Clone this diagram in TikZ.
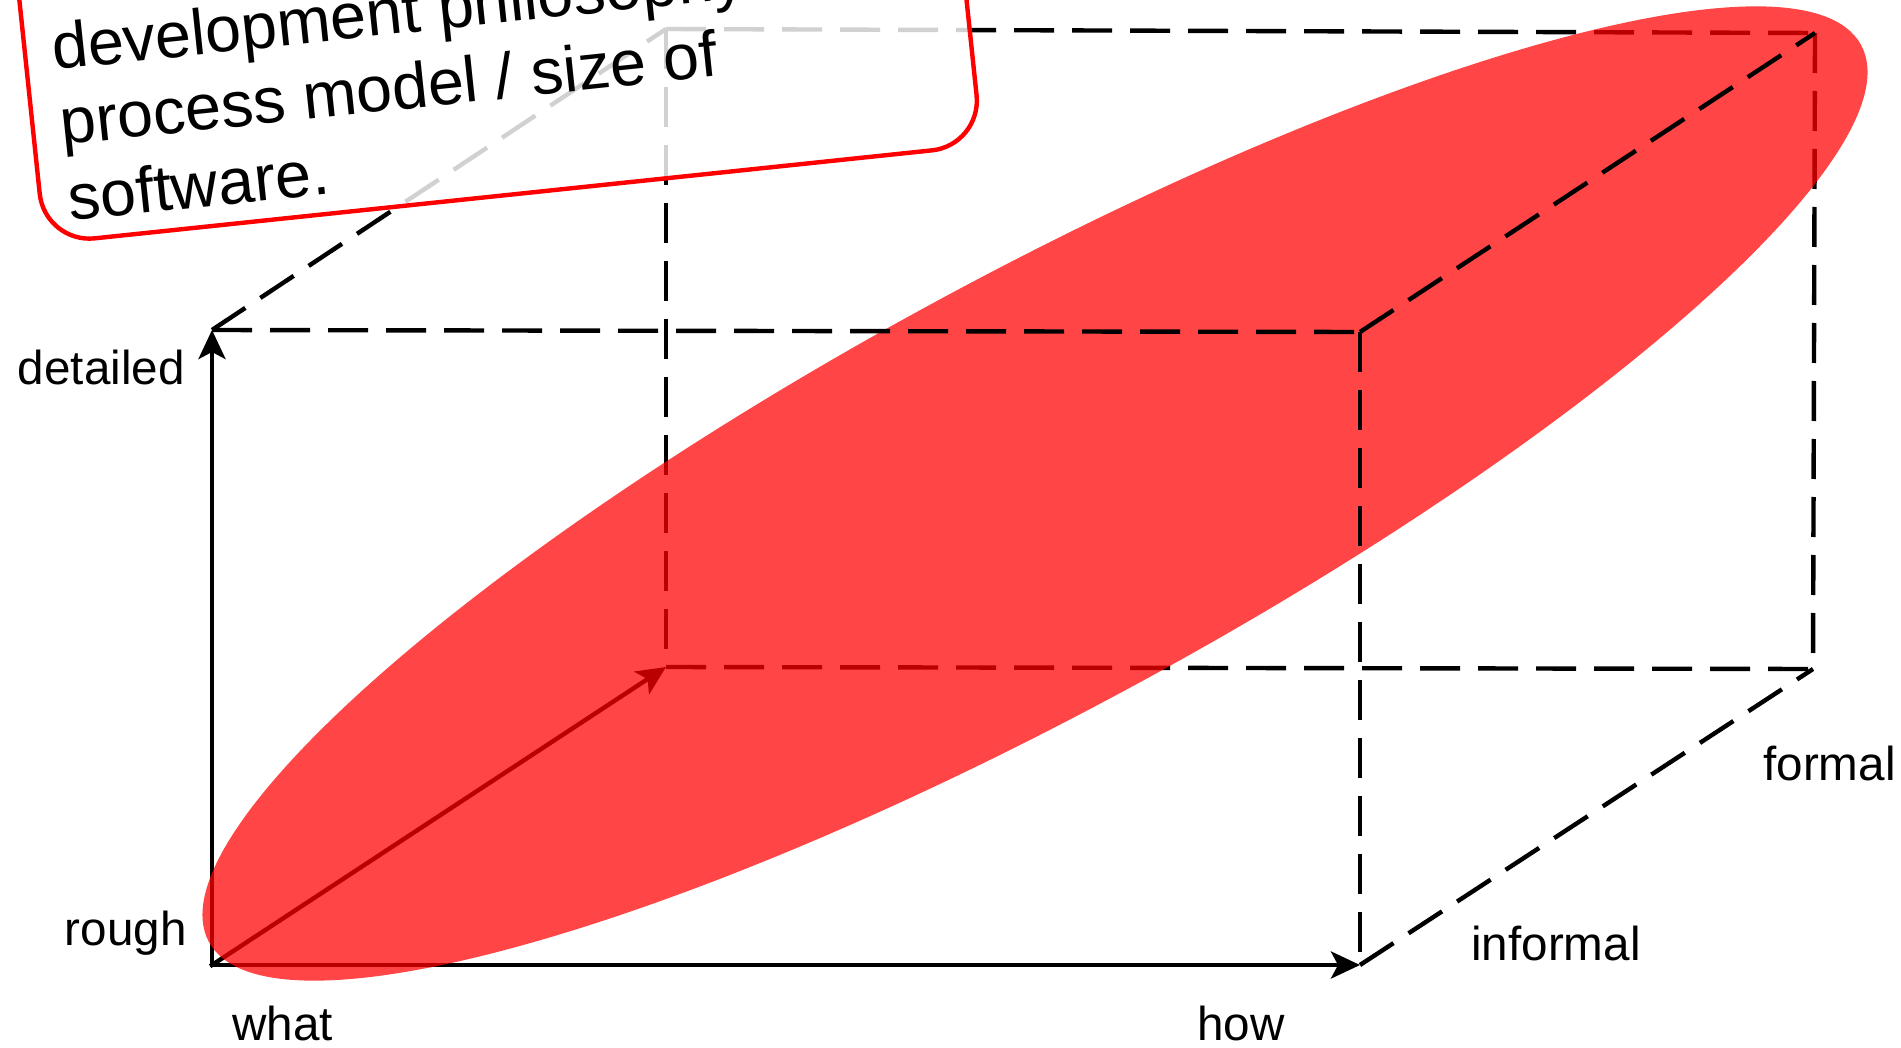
\documentclass[tikz,border=0pt]{standalone}
\usepackage{fontspec}
\setmainfont{Liberation Sans}
\usetikzlibrary{arrows.meta}
\begin{document}
\begin{tikzpicture}[x=0.5pt,y=-0.5pt,
  ln/.style={line width=2.2pt, black},
  dsh/.style={ln, dash pattern=on 20pt off 9pt},
  axis/.style={ln, line cap=rect, -{Stealth[length=14.5pt,width=13.5pt,inset=3.5pt]}},
  lbl/.style={inner sep=0pt, font=\fontsize{23.8pt}{28pt}\selectfont},
  ctext/.style={inner sep=0pt, rotate=6, font=\fontsize{32.3pt}{38pt}\selectfont},
  callbox/.style={draw=red, line width=2.2pt, fill=white, fill opacity=0.82,
    rounded corners=25pt, rotate=6, inner sep=0pt}]
\clip (0,0) rectangle (1901,1048);
\useasboundingbox (0,0) rectangle (1901,1048);

% corners
\coordinate (O) at (212,965);
\coordinate (FTL) at (212,330);
\coordinate (FBR) at (1360,965);
\coordinate (FTR) at (1360,332);
\coordinate (BBL) at (666,667);
\coordinate (BTL) at (666,29);
\coordinate (BTR) at (1815,33);
\coordinate (BBR) at (1813,669);

% back edges
\draw[dsh] (BTL) -- (BTR);
\draw[dsh] (BTL) -- (BBL);
\draw[dsh] (BBL) -- (BBR);
\draw[dsh] (BTR) -- (BBR);
\draw[dsh] (FTL) -- (BTL);

% axes
\draw[axis] (O) -- (FTL);
\draw[axis] (O) -- (FBR);
\draw[axis] (O) -- (BBL);

% ellipse
\fill[red, opacity=0.73, rotate around={28.5:(1035,493.5)}] (1035,493.5) ellipse [x radius=470pt, y radius=108pt];

% front edges
\draw[dsh] (FTL) -- (FTR);
\draw[dsh] (FTR) -- (FBR);
\draw[dsh] (FTR) -- (BTR);
\draw[dsh] (FBR) -- (BBR);

% labels
\node[lbl, anchor=base east] (detailed) at (185,385) {detailed};
\node[lbl, anchor=base east] (rough) at (187,945) {rough};
\node[lbl, anchor=base west] (what) at (232,1040) {what};
\node[lbl, anchor=base west] (how) at (1197,1040) {how};
\node[lbl, anchor=base west] (informal) at (1471,960) {informal};
\node[lbl, anchor=base west] (formal) at (1763,780) {formal};

% callout
\node[callbox, minimum width=471pt, minimum height=210pt, anchor=south west] (callout) at (43,246) {};
\node[ctext, anchor=base west] (c1) at (54,70) {development philosophy};
\node[ctext, anchor=base west] (c2) at (62,145) {process model / size of};
\node[ctext, anchor=base west] (c3) at (70,221) {software.};
\end{tikzpicture}
\end{document}
